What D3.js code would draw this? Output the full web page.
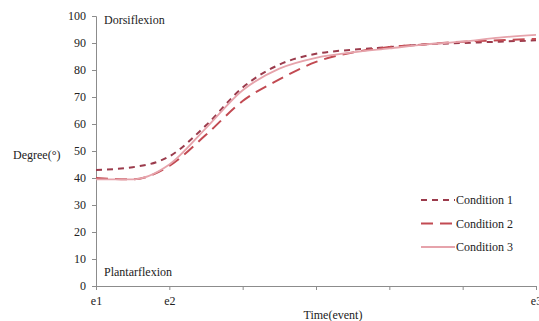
<!DOCTYPE html>
<html>
<head>
<meta charset="utf-8">
<script src="https://cdn.jsdelivr.net/npm/d3@7"></script>
<style>
  body { margin: 0; background: #fff; }
  svg text { font-family: 'Liberation Serif', 'Times New Roman', serif; }
</style>
</head>
<body>
<div id="chart"></div>
<script>
// positions along the time axis (event units)
const timePoints = [0, 0.5, 1, 1.5, 2, 2.5, 3, 3.5, 4, 4.5, 5, 5.5, 6];
const condition1 = [43, 44, 48, 59.5, 73.5, 82, 86, 87.5, 88.5, 89.5, 90, 90.5, 91];
const condition2 = [40, 39.5, 44.5, 56, 68.5, 76.5, 83, 86.5, 88.5, 89.5, 90.5, 91, 91.5];
const condition3 = [39.5, 39.5, 45, 58.5, 72.5, 80.5, 84.5, 86.5, 88, 89.5, 90.5, 92, 93];
const seriesNames = ['Condition 1', 'Condition 2', 'Condition 3'];
const xTickLabels = ['e1', 'e2', '', '', '', '', 'e3'];
const yTicks = [0, 10, 20, 30, 40, 50, 60, 70, 80, 90, 100];

const width = 539;
const height = 321;
const margin = { top: 16, right: 3, bottom: 35, left: 96 };
const serif = "'Liberation Serif', 'Times New Roman', serif";

const svg = d3.select('#chart')
  .append('svg')
  .attr('width', width)
  .attr('height', height)
  .attr('font-family', serif);

const x = d3.scaleLinear()
  .domain([0, 6])
  .range([margin.left, width - margin.right]);

const y = d3.scaleLinear()
  .domain([0, 100])
  .range([height - margin.bottom, margin.top]);

// y axis
const yAxis = svg.append('g')
  .attr('transform', 'translate(' + margin.left + ',0)')
  .call(d3.axisLeft(y).tickValues(yTicks).tickSize(4).tickPadding(6));
yAxis.attr('font-family', serif).attr('font-size', 12);
yAxis.select('.domain').attr('stroke', '#8c8c8c');
yAxis.selectAll('.tick line').attr('stroke', '#8c8c8c');
yAxis.selectAll('.tick text').attr('fill', '#222');

// x axis
const xAxis = svg.append('g')
  .attr('transform', 'translate(0,' + (height - margin.bottom) + ')')
  .call(d3.axisBottom(x).tickValues(d3.range(7)).tickSize(4).tickPadding(6)
    .tickFormat((d, i) => xTickLabels[i]));
xAxis.attr('font-family', serif).attr('font-size', 12);
xAxis.select('.domain').attr('stroke', '#8c8c8c');
xAxis.selectAll('.tick line').attr('stroke', '#8c8c8c');
xAxis.selectAll('.tick text').attr('fill', '#222');

// axis titles and annotations
svg.append('text')
  .attr('x', 13).attr('y', 159)
  .attr('font-size', 12).attr('fill', '#222')
  .text('Degree(°)');

svg.append('text')
  .attr('x', 333).attr('y', 319)
  .attr('text-anchor', 'middle')
  .attr('font-size', 12).attr('fill', '#222')
  .text('Time(event)');

svg.append('text')
  .attr('x', 104).attr('y', 24)
  .attr('font-size', 12).attr('fill', '#222')
  .text('Dorsiflexion');

svg.append('text')
  .attr('x', 104).attr('y', 276)
  .attr('font-size', 12).attr('fill', '#222')
  .text('Plantarflexion');

// series
const styles = [
  { color: '#9b3b4c', width: 2, dash: '6,5' },
  { color: '#c24a52', width: 2, dash: '12,7' },
  { color: '#e6a3ab', width: 1.8, dash: null }
];
const allSeries = [condition1, condition2, condition3];

const line = d3.line()
  .x((d, i) => x(timePoints[i]))
  .y(d => y(d))
  .curve(d3.curveMonotoneX);

svg.append('g')
  .selectAll('path')
  .data(allSeries)
  .enter()
  .append('path')
  .attr('d', line)
  .attr('fill', 'none')
  .attr('stroke', (d, i) => styles[i].color)
  .attr('stroke-width', (d, i) => styles[i].width)
  .attr('stroke-dasharray', (d, i) => styles[i].dash);

// legend
const legend = svg.append('g')
  .attr('transform', 'translate(421,200)');

const item = legend.selectAll('g')
  .data(seriesNames)
  .enter()
  .append('g')
  .attr('transform', (d, i) => 'translate(0,' + (i * 23.5) + ')');

item.append('line')
  .attr('x1', 0).attr('x2', 34)
  .attr('stroke', (d, i) => styles[i].color)
  .attr('stroke-width', (d, i) => styles[i].width)
  .attr('stroke-dasharray', (d, i) => styles[i].dash);

item.append('text')
  .attr('x', 35).attr('y', 4)
  .attr('font-size', 12).attr('fill', '#222')
  .text(d => d);
</script>
</body>
</html>
